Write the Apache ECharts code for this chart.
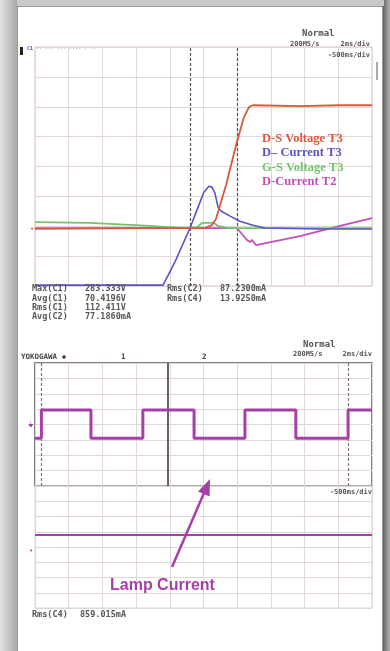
<!DOCTYPE html>
<html><head><meta charset="utf-8">
<script src="https://cdn.jsdelivr.net/npm/echarts@6/dist/echarts.min.js"></script>
<style>html,body{margin:0;padding:0;width:390px;height:651px;overflow:hidden;background:#fff}
#c{width:390px;height:651px}</style></head>
<body><div id="c"></div><script>
// ---- data (x in time divisions, y in vertical divisions) ----
var dsVoltT3_x = [0, 3.41, 5.04, 5.25, 5.37, 5.67, 5.99, 6.20, 6.35, 6.47, 7.86, 9.05, 10];
var dsVoltT3_y = [1.94, 1.94, 1.94, 2.04, 2.24, 3.38, 4.82, 5.65, 5.99, 6.05, 6.02, 6.05, 6.05];
var dCurT3_x = [0, 3.80, 4.15, 4.60, 4.84, 5.01, 5.16, 5.25, 5.34, 5.43, 5.52, 5.79, 6.08, 6.44, 6.82, 8.46, 10];
var dCurT3_y = [0.03, 0.03, 0.80, 1.94, 2.64, 3.14, 3.34, 3.31, 3.11, 2.64, 2.51, 2.34, 2.17, 2.04, 1.94, 1.91, 1.91];
var gsVoltT3_x = [0, 1.63, 3.41, 4.45, 4.81, 4.96, 5.31, 5.43, 5.73, 10];
var gsVoltT3_y = [2.14, 2.11, 2.01, 1.94, 1.97, 2.11, 2.11, 2.01, 1.94, 1.94];
var dCurT2_x = [0, 3.41, 5.99, 6.14, 6.29, 6.38, 6.44, 6.56, 7.86, 9.05, 10];
var dCurT2_y = [1.91, 1.94, 1.94, 1.74, 1.54, 1.47, 1.54, 1.37, 1.67, 2.01, 2.27];
var lampSq_x = [0, 0.19, 1.66, 3.20, 4.72, 6.23, 7.74, 9.29, 10];
var lampSq_y = [3.1, 4.95, 3.1, 4.95, 3.1, 4.95, 3.1, 4.95, 4.95];
var lampLine_x = [0, 10];
var lampLine_y = [4.79, 4.79];
var cursorsTop = [4.6, 6.0];
var cursorsBottom = [0.19, 9.29];
var cursorSolid = [3.95];
var legendNames = ['D-S Voltage T3', 'D\u2013 Current T3', 'G-S Voltage T3', 'D-Current T2'];
var measLeft = [['Max(C1)', '283.333V'], ['Avg(C1)', '70.4196V'], ['Rms(C1)', '112.411V'], ['Avg(C2)', '77.1860mA']];
var measRight = [['Rms(C2)', '87.2300mA'], ['Rms(C4)', '13.9250mA']];
var measBottom = [['Rms(C4)', '859.015mA']];

function pts(xs, ys) { return xs.map(function (x, i) { return [x, ys[i]]; }); }

var RED = '#d8583c', BLUE = '#5a54c2', GREEN = '#72c46a', MAG = '#c04fb8', LAMP = '#a63fa6';
var gridCol = '#e2d6d8';

function xAx(i) {
  return { gridIndex: i, type: 'value', min: 0, max: 10, interval: 1,
    axisLine: { show: false }, axisTick: { show: false }, axisLabel: { show: false },
    splitLine: { show: true, lineStyle: { color: gridCol, width: 1 } } };
}
function yAx(i) {
  return { gridIndex: i, type: 'value', min: 0, max: 8, interval: 1,
    axisLine: { show: false }, axisTick: { show: false }, axisLabel: { show: false },
    splitLine: { show: true, lineStyle: { color: gridCol, width: 1 } } };
}
function line(name, xi, data, color, w, extra) {
  var s = { name: name, type: 'line', xAxisIndex: xi, yAxisIndex: xi, data: data,
    showSymbol: false, symbol: 'none', animation: false, silent: true,
    lineStyle: { color: color, width: w }, z: 5 };
  if (extra) for (var k in extra) s[k] = extra[k];
  return s;
}
function cursorMark(xs, type, color, w) {
  return { symbol: ['none', 'none'], silent: true, animation: false, label: { show: false },
    lineStyle: { type: type, color: color, width: w }, data: xs.map(function (v) { return { xAxis: v }; }) };
}

var mono = 'DejaVu Sans Mono';
var graphics = [];
// background: outer gray + card
graphics.push({ type: 'rect', z: -10, shape: { x: 0, y: 0, width: 390, height: 651 },
  style: { fill: new echarts.graphic.LinearGradient(0, 0, 1, 0, [{ offset: 0, color: '#d8d8d8' }, { offset: 0.04, color: '#9a9a9a' }, { offset: 0.96, color: '#9a9a9a' }, { offset: 1, color: '#6e6e6e' }]) } });
graphics.push({ type: 'rect', z: -9, shape: { x: 17, y: 6, width: 366, height: 650 },
  style: { fill: '#ffffff', stroke: '#3a3a3a', lineWidth: 1 } });
graphics.push({ type: 'rect', z: -9, shape: { x: 0, y: 0, width: 17, height: 651 },
  style: { fill: new echarts.graphic.LinearGradient(0, 0, 1, 0, [{ offset: 0, color: '#e4e4e4' }, { offset: 1, color: '#a8a8a8' }]) } });
graphics.push({ type: 'rect', z: -9, shape: { x: 383.5, y: 0, width: 7, height: 651 },
  style: { fill: new echarts.graphic.LinearGradient(0, 0, 1, 0, [{ offset: 0, color: '#6a6a6a' }, { offset: 1, color: '#b8b8b8' }]) } });
graphics.push({ type: 'rect', z: -9, shape: { x: 17, y: 0, width: 367, height: 6 }, style: { fill: '#c8c8c8' } });

function txt(x, y, s, size, color, weight, family, align) {
  graphics.push({ type: 'text', z: 20, x: x, y: y,
    style: { text: s, fontSize: size, fill: color, fontWeight: weight || 'normal', fontFamily: family || mono,
      textAlign: align || 'left', textVerticalAlign: 'middle' } });
}
// top header
txt(302, 34, 'Normal', 9, '#555', 'bold');
txt(290, 44, '200MS/s', 7, '#555', 'bold');
txt(370, 44, '2ms/div', 7, '#555', 'bold', mono, 'right');
txt(370, 55, '-500ms/div', 7, '#555', 'bold', mono, 'right');
graphics.push({ type: 'rect', z: 20, shape: { x: 20, y: 47, width: 3, height: 8 }, style: { fill: '#222' } });
txt(27, 49, 'C1 ', 5, '#4a48b0', 'bold');
txt(36, 49, '\u00b7\u00b7 \u00b7\u00b7\u00b7 \u00b7\u00b7\u00b7 \u00b7\u00b7\u00b7\u00b7 \u00b7 \u00b7\u00b7', 5, '#888');
graphics.push({ type: 'rect', z: 20, shape: { x: 376, y: 62, width: 2, height: 18 }, style: { fill: '#aaa' } });
txt(30, 229, '\u2022', 7, RED);
// legend labels (serif bold)
var legCols = [RED, BLUE, GREEN, MAG];
legendNames.forEach(function (n, i) {
  txt(262, [139, 153, 168, 182][i], n, 12.5, legCols[i], 'bold', 'Liberation Serif');
});
// measurements top
measLeft.forEach(function (m, i) {
  var y = 289 + i * 9.4;
  txt(32, y, m[0], 8.5, '#555', 'bold');
  txt(85, y, m[1], 8.5, '#555', 'bold');
});
measRight.forEach(function (m, i) {
  var y = 289 + i * 9.4;
  txt(167, y, m[0], 8.5, '#555', 'bold');
  txt(220, y, m[1], 8.5, '#555', 'bold');
});
// bottom scope header
txt(303, 345, 'Normal', 9, '#555', 'bold');
txt(293, 354, '200MS/s', 7, '#555', 'bold');
txt(372, 354, '2ms/div', 7, '#555', 'bold', mono, 'right');
txt(21, 357, 'YOKOGAWA \u25c6', 7.5, '#444', 'bold');
txt(121, 357, '1', 7.5, '#444', 'bold');
txt(202, 357, '2', 7.5, '#444', 'bold');
txt(372, 492, '-500ms/div', 7, '#555', 'bold', mono, 'right');
txt(28, 425, '\u23da', 8, LAMP);
txt(29, 551, '\u2022', 7, LAMP);
measBottom.forEach(function (m) {
  txt(32, 615, m[0], 8.5, '#555', 'bold');
  txt(80, 615, m[1], 8.5, '#555', 'bold');
});
// arrow + label
graphics.push({ type: 'line', z: 21, shape: { x1: 172, y1: 567, x2: 204, y2: 493 }, style: { stroke: LAMP, lineWidth: 2.5 } });
graphics.push({ type: 'polygon', z: 21, shape: { points: [[210, 479], [209.5, 496.5], [198, 491.5]] }, style: { fill: LAMP } });
txt(110, 586, 'Lamp Current', 16, LAMP, 'bold', 'Liberation Sans');

var chart = echarts.init(document.getElementById('c'), null, { renderer: 'canvas' });
chart.setOption({
  animation: false,
  backgroundColor: 'transparent',
  grid: [
    { left: 35, top: 47, width: 337, height: 239, show: true, borderColor: '#dcc4c6', borderWidth: 1, backgroundColor: '#fff' },
    { left: 35, top: 363, width: 337, height: 123, show: true, borderColor: '#5a5a5a', borderWidth: 1.5, backgroundColor: '#fff' },
    { left: 35, top: 486, width: 337, height: 122, show: true, borderColor: '#dcd2d6', borderWidth: 1, backgroundColor: '#fff' }
  ],
  xAxis: [xAx(0), xAx(1), xAx(2)],
  yAxis: [yAx(0), yAx(1), yAx(2)],
  graphic: graphics,
  series: [
    line('cursors', 0, [], '#555', 1, { markLine: cursorMark(cursorsTop, [3, 2], '#555', 1.2) }),
    line(legendNames[3], 0, pts(dCurT2_x, dCurT2_y), MAG, 1.8),
    line(legendNames[2], 0, pts(gsVoltT3_x, gsVoltT3_y), GREEN, 1.8),
    line(legendNames[1], 0, pts(dCurT3_x, dCurT3_y), BLUE, 1.6),
    line(legendNames[0], 0, pts(dsVoltT3_x, dsVoltT3_y), RED, 1.8),
    line('cursors2', 1, [], '#555', 1, { markLine: cursorMark(cursorsBottom, [3, 2], '#777', 1.2) }),
    line('cursorSolid', 1, [], '#333', 1, { markLine: cursorMark(cursorSolid, 'solid', '#333', 1.5) }),
    line('Lamp Current (zoom)', 1, pts(lampSq_x, lampSq_y), LAMP, 3, { step: 'end' }),
    line('Lamp Current', 2, pts(lampLine_x, lampLine_y), LAMP, 2)
  ]
});
</script></body></html>
